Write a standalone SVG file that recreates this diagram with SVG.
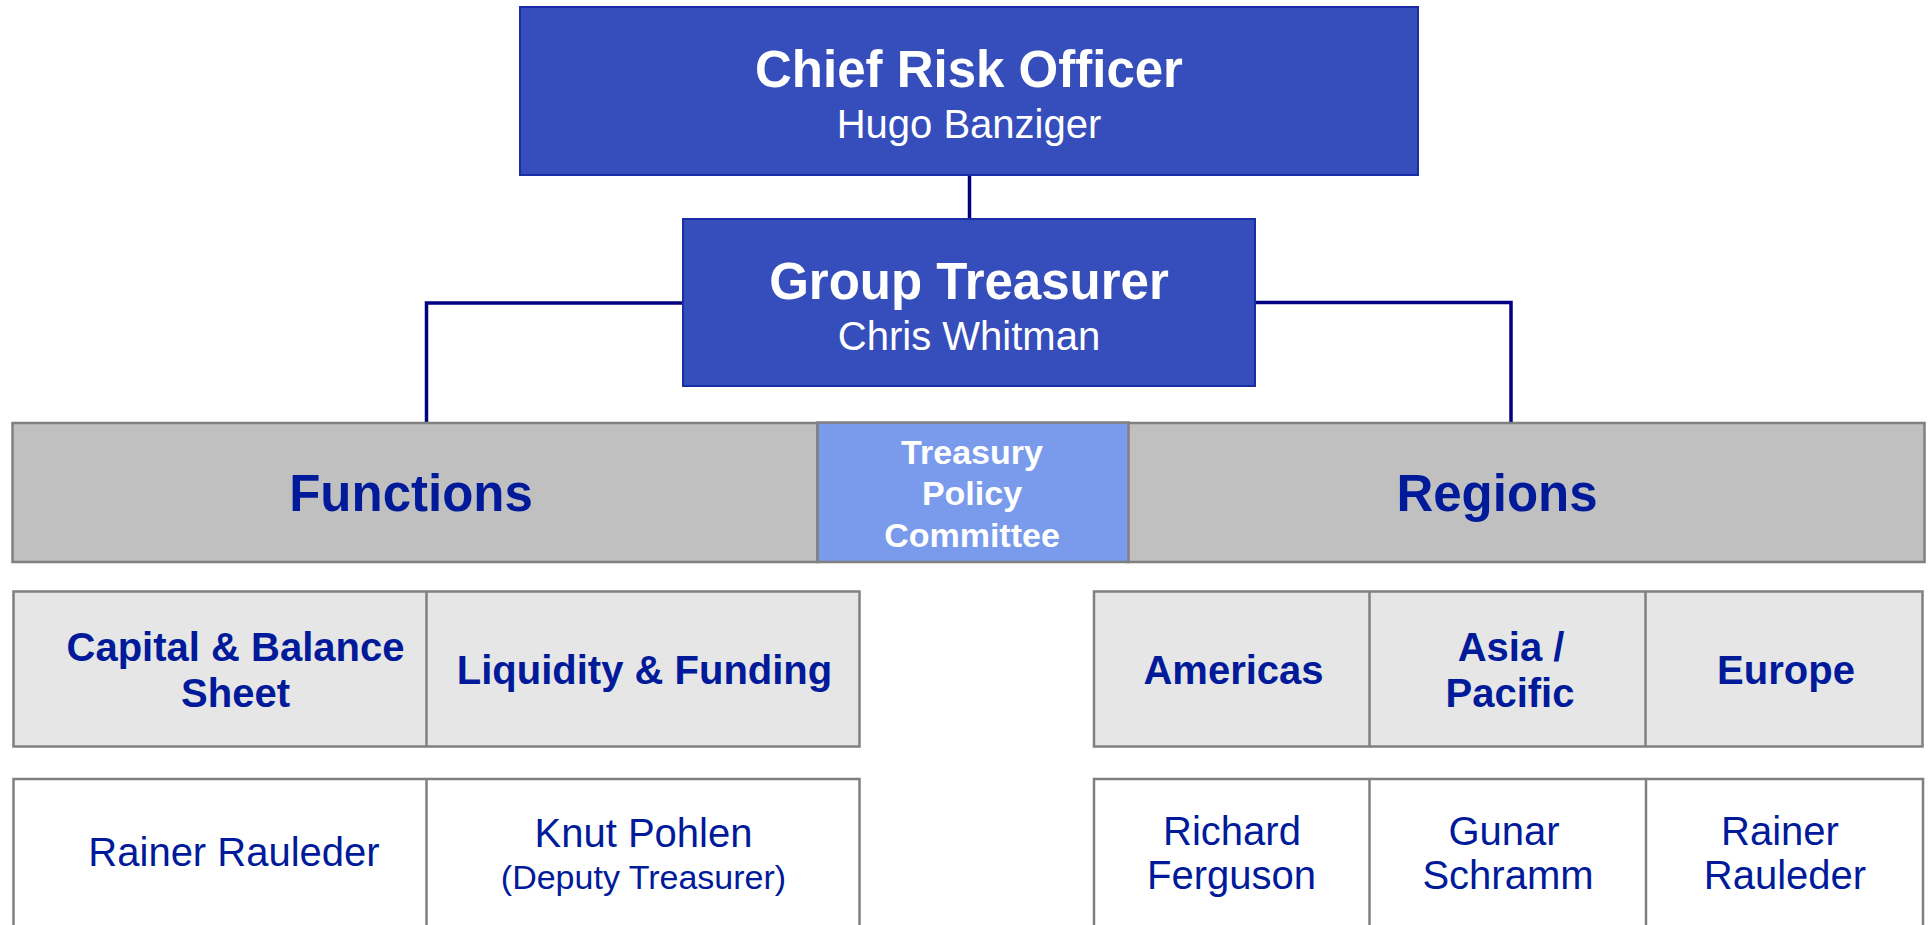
<svg xmlns="http://www.w3.org/2000/svg" width="1932" height="925" viewBox="0 0 1932 925">
  <style>
    .exec { fill: #364EBB; stroke: #1A2CA6; stroke-width: 2; }
    .band { fill: #C0C0C0; stroke: #808080; stroke-width: 2.5; }
    .cat { fill: #E6E6E6; stroke: #808080; stroke-width: 2.5; }
    .person { fill: #FFFFFF; stroke: #808080; stroke-width: 2.5; }
    .tpc { fill: #7A9BEB; stroke: #808080; stroke-width: 2.5; }
    .link { fill: none; stroke: #000080; stroke-width: 3.5; }
    .div { stroke: #808080; stroke-width: 2.5; }
    text { font-family: "Liberation Sans", Arial, sans-serif; text-anchor: middle; }
    .w { fill: #FFFFFF; }
    .b { fill: #001A9A; }
    .bold { font-weight: bold; }
    .t51 { font-size: 51px; }
    .t40 { font-size: 40px; }
    .t34 { font-size: 34px; }
  </style>

  <g id="connectors">
    <line class="link" x1="969.5" y1="175" x2="969.5" y2="219"/>
    <path class="link" d="M683 303 H426.5 V422"/>
    <path class="link" d="M1255 302.5 H1511 V422"/>
  </g>

  <g id="chief-risk-officer">
    <rect class="exec" x="520" y="7" width="898" height="168"/>
    <text class="w bold t51" x="969" y="86.5">Chief Risk Officer</text>
    <text class="w t40" x="969" y="138">Hugo Banziger</text>
  </g>

  <g id="group-treasurer">
    <rect class="exec" x="683" y="219" width="572" height="167"/>
    <text class="w bold t51" x="969" y="299">Group Treasurer</text>
    <text class="w t40" x="969" y="350">Chris Whitman</text>
  </g>

  <g id="functions">
    <rect class="band" x="12.5" y="423" width="805" height="139"/>
    <text class="b bold t51" x="411" y="511">Functions</text>
  </g>

  <g id="regions">
    <rect class="band" x="1127.5" y="423" width="797" height="139"/>
    <text class="b bold t51" x="1497" y="511">Regions</text>
  </g>

  <g id="treasury-policy-committee">
    <rect class="tpc" x="817.5" y="422.5" width="311" height="139.5"/>
    <text class="w bold t34" x="972" y="463.5">Treasury</text>
    <text class="w bold t34" x="972" y="505">Policy</text>
    <text class="w bold t34" x="972" y="546.5">Committee</text>
  </g>

  <g id="function-areas">
    <rect class="cat" x="13.5" y="591.5" width="846" height="155"/>
    <line class="div" x1="426.5" y1="591.5" x2="426.5" y2="746.5"/>
    <text class="b bold t40" x="235.5" y="660.5">Capital &amp; Balance</text>
    <text class="b bold t40" x="235.5" y="707">Sheet</text>
    <text class="b bold t40" x="644.5" y="683.5">Liquidity &amp; Funding</text>
  </g>

  <g id="region-areas">
    <rect class="cat" x="1094" y="591.5" width="828.5" height="155"/>
    <line class="div" x1="1369.5" y1="591.5" x2="1369.5" y2="746.5"/>
    <line class="div" x1="1645.5" y1="591.5" x2="1645.5" y2="746.5"/>
    <text class="b bold t40" x="1233.5" y="683.5">Americas</text>
    <text class="b bold t40" x="1511" y="660.5">Asia /</text>
    <text class="b bold t40" x="1510" y="707">Pacific</text>
    <text class="b bold t40" x="1786" y="683.5">Europe</text>
  </g>

  <g id="function-heads">
    <rect class="person" x="13.5" y="779" width="846" height="200"/>
    <line class="div" x1="426.5" y1="779" x2="426.5" y2="979"/>
    <text class="b t40" x="234" y="866">Rainer Rauleder</text>
    <text class="b t40" x="643.5" y="847">Knut Pohlen</text>
    <text class="b t34" x="643.5" y="888.5">(Deputy Treasurer)</text>
  </g>

  <g id="region-heads">
    <rect class="person" x="1094" y="779" width="829" height="200"/>
    <line class="div" x1="1369.5" y1="779" x2="1369.5" y2="979"/>
    <line class="div" x1="1646" y1="779" x2="1646" y2="979"/>
    <text class="b t40" x="1232" y="845">Richard</text>
    <text class="b t40" x="1231.5" y="889">Ferguson</text>
    <text class="b t40" x="1504" y="845">Gunar</text>
    <text class="b t40" x="1508" y="889">Schramm</text>
    <text class="b t40" x="1780" y="845">Rainer</text>
    <text class="b t40" x="1785" y="889">Rauleder</text>
  </g>
</svg>
